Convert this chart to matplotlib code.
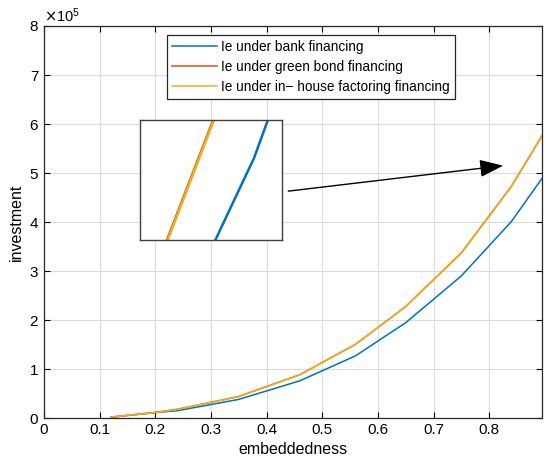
import matplotlib
matplotlib.use("Agg")
import matplotlib.pyplot as plt
from matplotlib.ticker import ScalarFormatter

plt.rcParams['font.family'] = ['Liberation Sans', 'DejaVu Sans']

#Data (investment in units of 1e5)
SCALE = 1e5
embed = [0.12, 0.20, 0.24, 0.35, 0.46, 0.56, 0.65, 0.75, 0.84, 0.895]
bank = [0.015, 0.11, 0.15, 0.38, 0.76, 1.27, 1.945, 2.90, 4.01, 4.89]
green = [0.02, 0.115, 0.18, 0.44, 0.885, 1.505, 2.275, 3.37, 4.73, 5.76]
house = [0.02, 0.11, 0.175, 0.435, 0.88, 1.50, 2.27, 3.36, 4.72, 5.75]
labels = ["Ie under bank financing", "Ie under green bond financing",
          "Ie under in\u2212 house factoring financing"]
colors = ["#0072BD", "#D95319", "#EDB120"]

#Zoom window and arrow
zoomX = (0.742, 0.864)
zoomY = (3.6, 4.2)
arrowStart = (0.439, 4.63)
arrowEnd = (0.825, 5.15)

fig = plt.figure(figsize=(5.5, 4.71), dpi=100)
ax = fig.add_axes([0.08, 0.1125, 0.9055, 0.8323])

series = [bank, green, house]
for ys, lab, col in zip(series, labels, colors):
    ax.plot(embed, [v * SCALE for v in ys], color=col, lw=1.1, label=lab)

ax.set_xlim(0, embed[-1])
ax.set_ylim(0, 8 * SCALE)
ax.set_xticks([i / 10 for i in range(9)])
ax.set_xticklabels(["0"] + ["%.1f" % (i / 10) for i in range(1, 9)])
ax.set_yticks([i * SCALE for i in range(9)])
fmt = ScalarFormatter(useMathText=True)
fmt.set_powerlimits((0, 0))
ax.yaxis.set_major_formatter(fmt)
ax.yaxis.get_offset_text().set_fontsize(10.5)
ax.grid(True, color="#dcdcdc", lw=0.8)
ax.set_axisbelow(True)
ax.tick_params(direction="in", top=True, right=True, labelsize=11, length=4, width=0.8)
for sp in ax.spines.values():
    sp.set_color("#262626")
    sp.set_linewidth(0.9)
ax.set_xlabel("embeddedness", fontsize=11.5)
ax.set_ylabel("investment", fontsize=11.5)

leg = ax.legend(loc="upper left", bbox_to_anchor=(0.246, 0.978), fontsize=9.8,
                fancybox=False, framealpha=1, edgecolor="#262626",
                borderpad=0.38, labelspacing=0.43, handlelength=3.3,
                handletextpad=0.35, borderaxespad=0)
leg.get_frame().set_linewidth(0.9)

#Inset zoom box
axIn = fig.add_axes([140 / 550, 1 - 240 / 471, 142 / 550, 120 / 471])
for ys, col in zip(series, colors):
    axIn.plot(embed, [v * SCALE for v in ys], color=col, lw=1.8)
axIn.set_xlim(*zoomX)
axIn.set_ylim(zoomY[0] * SCALE, zoomY[1] * SCALE)
axIn.set_xticks([])
axIn.set_yticks([])
for sp in axIn.spines.values():
    sp.set_color("#404040")
    sp.set_linewidth(1.0)

ax.annotate("", xy=(arrowEnd[0], arrowEnd[1] * SCALE),
            xytext=(arrowStart[0], arrowStart[1] * SCALE),
            arrowprops=dict(arrowstyle="-|>,head_length=1.2,head_width=0.45",
                            color="black", lw=1.0,
                            mutation_scale=12, shrinkA=0, shrinkB=0))

fig.savefig("out.png", dpi=100)
